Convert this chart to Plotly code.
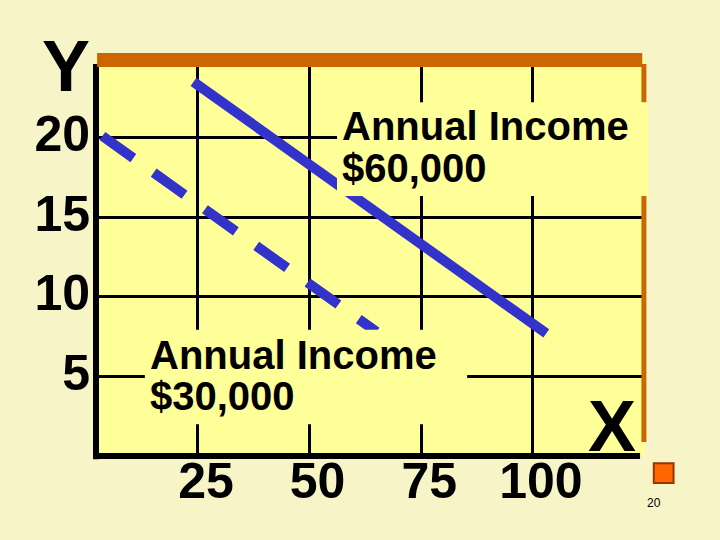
import plotly.graph_objects as go

# budget lines (x = good X, y = good Y)
high_x = [24, 103]
high_y = [23.5, 7.7]
low_x = [3.6, 65]
low_y = [20.1, 7.8]

x_ticks = [25, 50, 75, 100]
y_ticks = [5, 10, 15, 20]

high_label = ["Annual Income", "$60,000"]
low_label = ["Annual Income", "$30,000"]

FONT = "Liberation Sans"
BLUE = "#3333CC"
ORANGE = "#CC6600"
PLOT_BG = "#FFFF99"

fig = go.Figure()
fig.add_trace(go.Scatter(x=high_x, y=high_y, mode="lines",
                         line=dict(color=BLUE, width=10), showlegend=False))
fig.add_trace(go.Scatter(x=low_x, y=low_y, mode="lines",
                         line=dict(color=BLUE, width=10, dash="38px,25px"),
                         showlegend=False))

shapes = [
    # label boxes covering grid and lines
    dict(type="rect", xref="paper", yref="paper", x0=0.439, x1=1.006, y0=0.653, y1=0.889,
         fillcolor=PLOT_BG, line=dict(width=0), layer="above"),
    dict(type="rect", xref="paper", yref="paper", x0=0.089, x1=0.676, y0=0.080, y1=0.317,
         fillcolor=PLOT_BG, line=dict(width=0), layer="above"),
    # axes
    dict(type="line", xref="paper", yref="paper", x0=0, x1=0, y0=-0.008, y1=0.985,
         line=dict(color="black", width=6), layer="above"),
    dict(type="line", xref="paper", yref="paper", x0=-0.005, x1=0.991, y0=0, y1=0,
         line=dict(color="black", width=6), layer="above"),
    # orange frame
    dict(type="line", xref="paper", yref="paper", x0=0.002, x1=0.995, y0=0.995, y1=0.995,
         line=dict(color=ORANGE, width=14), layer="above"),
    dict(type="line", xref="paper", yref="paper", x0=0.998, x1=0.998, y0=0.889, y1=0.985,
         line=dict(color=ORANGE, width=5), layer="above"),
    dict(type="line", xref="paper", yref="paper", x0=0.998, x1=0.998, y0=0.035, y1=0.653,
         line=dict(color=ORANGE, width=5), layer="above"),
    # slide number marker
    dict(type="rect", xref="paper", yref="paper", x0=1.016, x1=1.052, y0=-0.068, y1=-0.018,
         fillcolor="#FF6600", line=dict(color="#993300", width=2), layer="above"),
]

big = dict(family=FONT, size=40, color="black")
annotations = [
    dict(text="<b>%s</b>" % high_label[0], x=0.444, y=0.829, xanchor="left", yanchor="middle"),
    dict(text="<b>%s</b>" % high_label[1], x=0.444, y=0.724, xanchor="left", yanchor="middle"),
    dict(text="<b>%s</b>" % low_label[0], x=0.094, y=0.254, xanchor="left", yanchor="middle"),
    dict(text="<b>%s</b>" % low_label[1], x=0.094, y=0.151, xanchor="left", yanchor="middle"),
]
for a in annotations:
    a.update(xref="paper", yref="paper", showarrow=False, font=big)
annotations += [
    dict(text="<b>Y</b>", x=-0.054, y=0.98, xref="paper", yref="paper", showarrow=False,
         xanchor="center", yanchor="middle", font=dict(family=FONT, size=72, color="black")),
    dict(text="<b>X</b>", x=0.940, y=0.075, xref="paper", yref="paper", showarrow=False,
         xanchor="center", yanchor="middle", font=dict(family=FONT, size=72, color="black")),
    dict(text="20", x=1.0, y=-0.118, xref="paper", yref="paper", showarrow=False,
         xanchor="left", yanchor="middle", font=dict(family=FONT, size=12, color="black")),
]

fig.update_layout(
    width=720, height=540,
    margin=dict(l=96, r=75, t=58, b=84),
    paper_bgcolor="#F7F5C8",
    plot_bgcolor=PLOT_BG,
    shapes=shapes,
    annotations=annotations,
    showlegend=False,
)
fig.update_xaxes(range=[2.17, 125.1], tickvals=x_ticks, ticktext=["<b>%d</b>" % v for v in x_ticks],
                 showgrid=True, gridcolor="black", gridwidth=3, zeroline=False, showline=False,
                 tickfont=dict(family=FONT, size=50, color="black"), ticklabelshift=8,
                 ticklabelstandoff=-9)
fig.update_yaxes(range=[0, 25], tickvals=y_ticks, ticktext=["<b>%d</b>" % v for v in y_ticks],
                 showgrid=True, gridcolor="black", gridwidth=3, zeroline=False, showline=False,
                 tickfont=dict(family=FONT, size=50, color="black"), ticklabelstandoff=5,
                 ticklabelshift=-4)

fig.write_html("out.html", config={"displayModeBar": False},
               post_script="document.body.style.margin='0';")
